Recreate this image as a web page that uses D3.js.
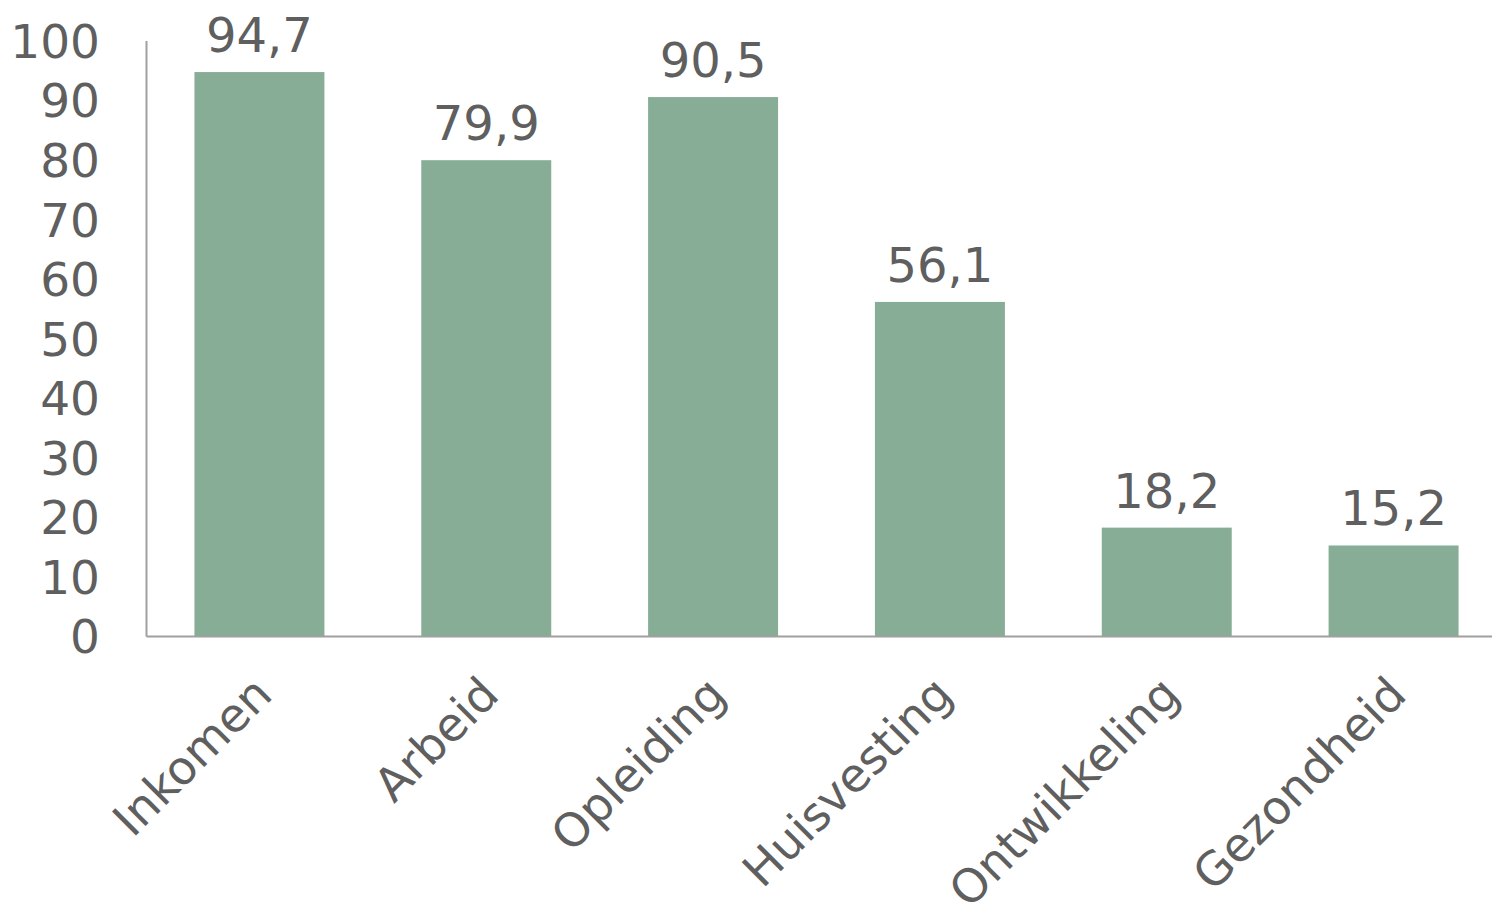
<!DOCTYPE html>
<html>
<head>
<meta charset="utf-8">
<script src="https://cdn.jsdelivr.net/npm/d3@7"></script>
<style>
  html, body { margin: 0; padding: 0; background: #fff; }
  svg { display: block; }
</style>
</head>
<body>
<svg id="chart" width="1492" height="919"></svg>
<script>
const categories = ["Inkomen", "Arbeid", "Opleiding", "Huisvesting", "Ontwikkeling", "Gezondheid"];
const values = [94.7, 79.9, 90.5, 56.1, 18.2, 15.2];
const yTicks = [0, 10, 20, 30, 40, 50, 60, 70, 80, 90, 100];

const svg = d3.select("#chart");
const font = "Verdana, 'DejaVu Sans', sans-serif";
const textColor = "#5f5f5f";
const axisColor = "#a0a0a0";
const barColor = "#87ad97";

const x0 = 146, x1 = 1507, yTop = 40.5, yBase = 636;

const x = d3.scaleBand().domain(categories).range([x0, x1]).paddingInner(0.427).paddingOuter(0.2135);
const y = d3.scaleLinear().domain([0, 100]).range([yBase, yTop]);

// bars
svg.append("g").selectAll("rect").data(values).join("rect")
  .attr("x", (d, i) => x(categories[i]))
  .attr("y", d => y(d))
  .attr("width", x.bandwidth())
  .attr("height", d => y(0) - y(d))
  .attr("fill", barColor);

// value labels
svg.append("g").selectAll("text").data(values).join("text")
  .attr("x", (d, i) => x(categories[i]) + x.bandwidth() / 2)
  .attr("y", d => y(d) - 20)
  .attr("text-anchor", "middle")
  .attr("font-family", font)
  .attr("font-size", 48)
  .attr("fill", textColor)
  .text(d => d.toFixed(1).replace(".", ","));

// y axis
const yAxis = d3.axisLeft(y).tickValues(yTicks).tickSize(0).tickPadding(46);
const gy = svg.append("g").attr("transform", `translate(${x0},0)`).call(yAxis);
gy.select(".domain").attr("stroke", axisColor).attr("stroke-width", 2);
gy.selectAll("text")
  .attr("font-family", font)
  .attr("font-size", 47)
  .attr("dy", "0.36em")
  .attr("fill", textColor);

// x axis
const xAxis = d3.axisBottom(x).tickSize(0).tickPadding(0);
const gx = svg.append("g").attr("transform", `translate(0,${yBase})`).call(xAxis);
gx.select(".domain").attr("stroke", axisColor).attr("stroke-width", 2);
gx.selectAll("text")
  .attr("font-family", font)
  .attr("font-size", 46.5)
  .attr("fill", textColor)
  .attr("text-anchor", "end")
  .attr("dy", 0)
  .attr("y", 0)
  .attr("transform", "translate(15,61) rotate(-45)");
</script>
</body>
</html>
